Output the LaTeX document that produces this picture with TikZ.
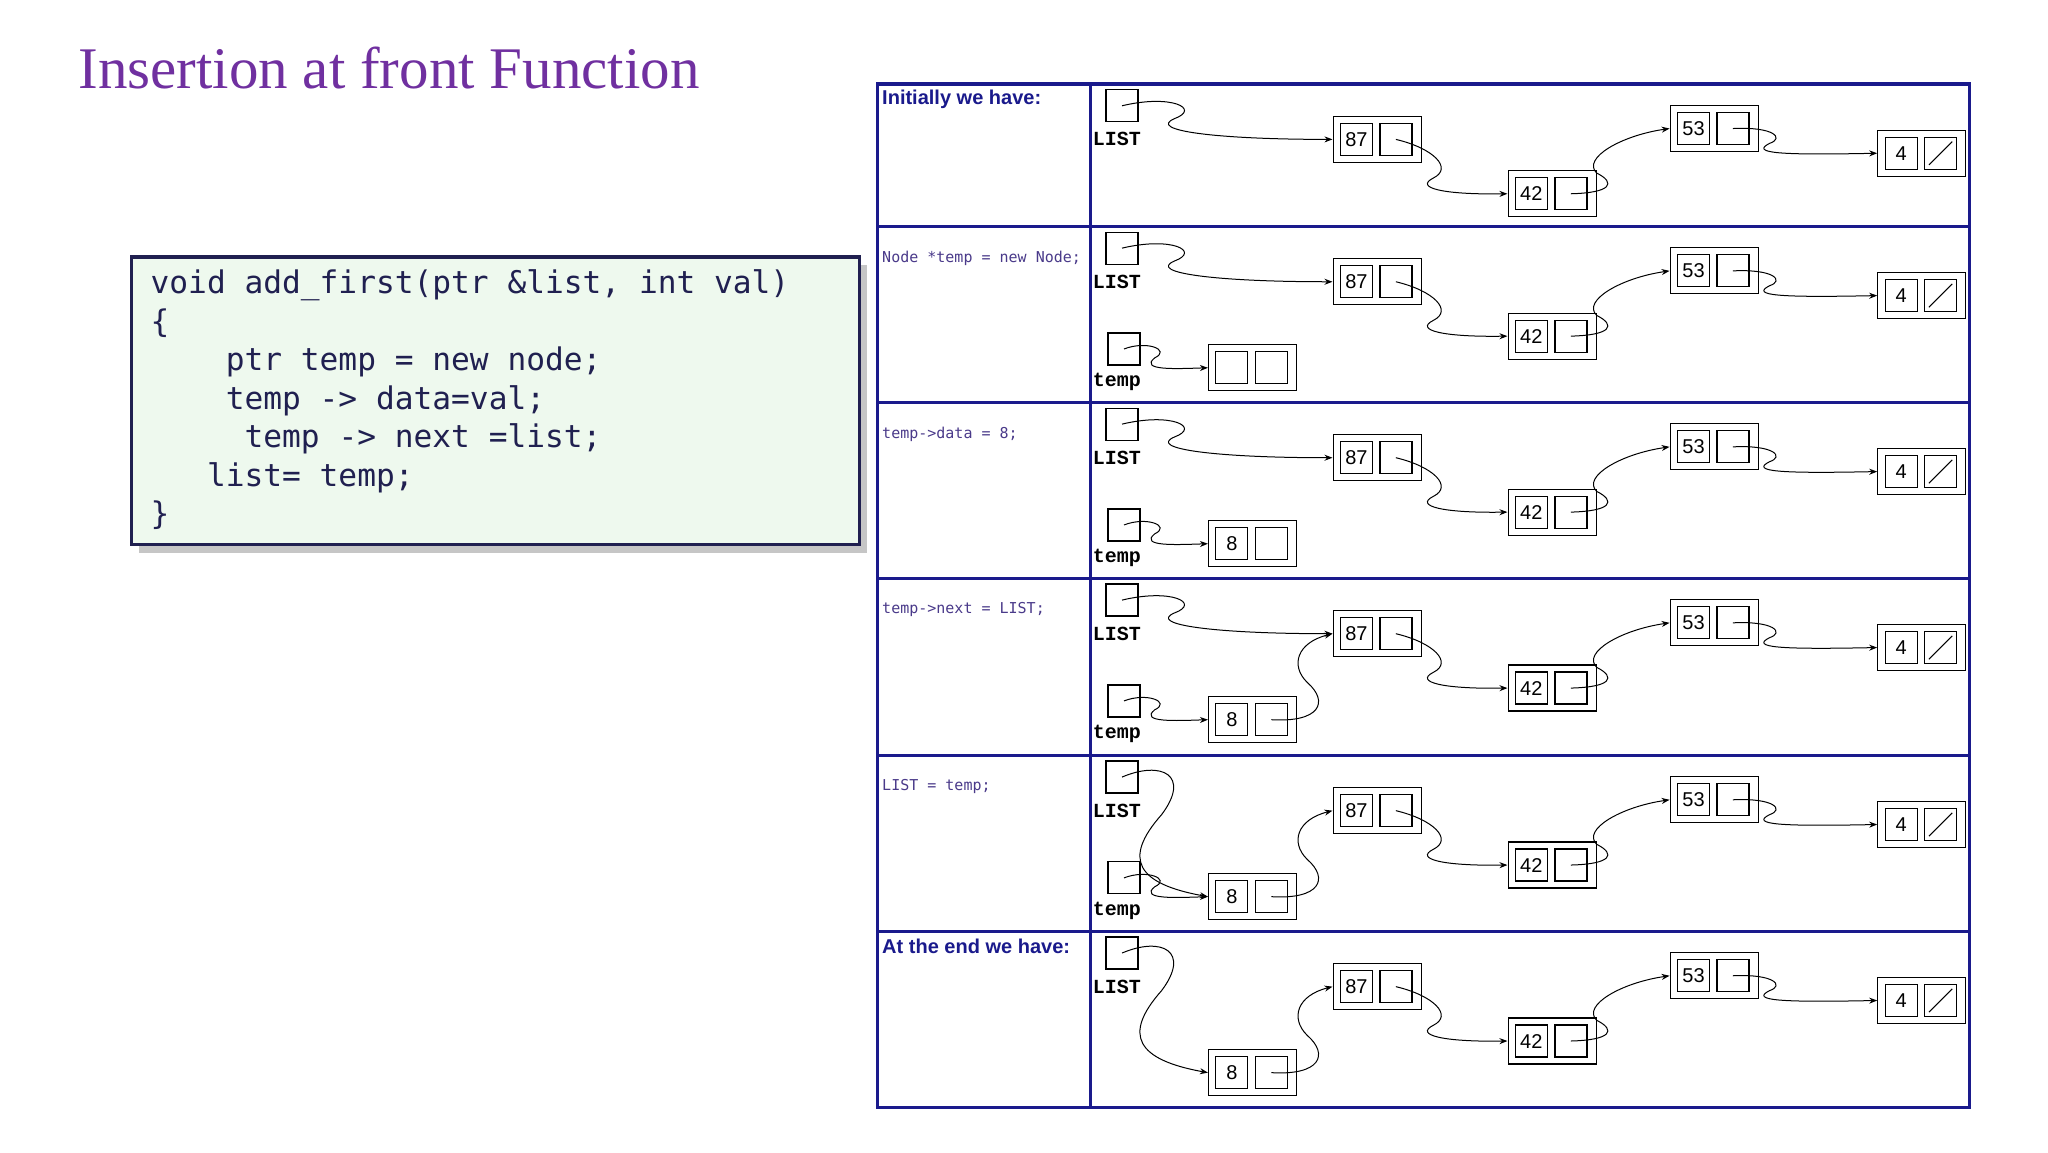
\documentclass[tikz,border=0pt]{standalone}
\usepackage{fontspec}
\setmainfont{Liberation Serif}
\newfontfamily\sansf{Liberation Sans}
\newfontfamily\monof{DejaVu Sans Mono}
\newfontfamily\courf{Liberation Mono}
\usetikzlibrary{arrows.meta,calc}
\definecolor{navy}{HTML}{1A1A8C}
\definecolor{codeink}{HTML}{202050}
\definecolor{ttl}{HTML}{7030A0}
\definecolor{codebg}{HTML}{EEF9EE}
\definecolor{lab}{HTML}{4A3A8A}
\begin{document}
\begin{tikzpicture}[x=0.5pt,y=-0.5pt,
  tbl/.style={navy,line width=1.6pt},
  cellbox/.style={draw,line width=0.6pt,minimum size=16pt,inner sep=0pt,font=\sansf\fontsize{10}{10}\selectfont},
  outerbox/.style={draw,line width=0.6pt,minimum width=44pt,minimum height=23pt,inner sep=0pt},
  ptrbox/.style={draw,line width=0.6pt,minimum size=16pt,inner sep=0pt},
  plab/.style={font=\courf\bfseries\fontsize{10}{10}\selectfont,anchor=west,inner sep=0pt},
  ptr/.style={line width=0.5pt,-{Stealth[length=4pt,width=3pt]}},
  rowlab/.style={anchor=west,inner sep=0pt,text=navy,font=\sansf\bfseries\fontsize{10}{10}\selectfont},
  codelab/.style={anchor=west,inner sep=0pt,text=lab,font=\monof\fontsize{7.5}{7.5}\selectfont},
  code/.style={anchor=base west,inner sep=0pt,text=codeink,font=\monof\fontsize{15.6}{15.6}\selectfont}]
\useasboundingbox (0,0) rectangle (2048,1152);
\fill[white] (0,0) rectangle (2048,1152);
\begin{scope}[scale=0.9886]
% title
\node[anchor=base west,inner sep=0pt,text=ttl,font=\fontsize{29.5}{29.5}\selectfont] (title) at (79,90) {Insertion at front Function};
% code box
\fill[gray!45] (141,268) rectangle (877,559);
\draw[codeink,line width=1.6pt,fill=codebg] (133,260) rectangle (869,551);
\node[code] (c1) at (152,297) {void add\_first(ptr \&list, int val)};
\node[code] (c2) at (152,336) {\{};
\node[code] (c3) at (228,375) {ptr temp = new node;};
\node[code] (c4) at (228,414) {temp -> data=val;};
\node[code] (c5) at (247,453) {temp -> next =list;};
\node[code] (c6) at (209,492) {list= temp;};
\node[code] (c7) at (152,531) {\}};
% table
\draw[tbl] (888,85) rectangle (1992,1120);
\draw[tbl] (1103,85) -- (1103,1120);
\foreach \yy in {229,407,585,764,942} \draw[tbl] (888,\yy) -- (1992,\yy);
% macros
\newcommand\lnode[4]{%
  \node[outerbox] (#1) at (#2+44,#3+23) {};
  \node[cellbox] (#1v) at (#2+23,#3+23) {#4};
  \node[cellbox] (#1n) at (#2+63,#3+23) {};}
\newcommand\common[2]{%
 \begin{scope}[shift={(0,#2)}]
  \node[ptrbox] (#1L) at (1135,22) {};
  \node[plab] (#1Lt) at (1105,56) {LIST};
  \lnode{#1a}{1349}{33}{87}
  \lnode{#1b}{1526}{88}{42}
  \lnode{#1c}{1690}{22}{53}
  \lnode{#1d}{1900}{47}{4}
  \draw[line width=0.5pt] ($(#1dn.south west)+(5,-5)$) -- ($(#1dn.north east)+(-5,5)$);
  \draw[ptr] (#1an.center) .. controls (1450,65) and (1470,85) .. (1450,95) .. controls (1430,105) and (1460,112) .. (#1b.west);
  \draw[ptr] (#1bn.center) .. controls (1630,110) and (1635,100) .. (1615,90) .. controls (1600,75) and (1640,52) .. (#1c.west);
  \draw[ptr] (#1cn.center) .. controls (1795,43) and (1805,55) .. (1790,60) .. controls (1770,70) and (1800,72) .. (#1d.west);
 \end{scope}}
\newcommand\listto[2]{%
 \begin{scope}[shift={(0,#2)}]
  \draw[ptr] (#1L.center) .. controls (1185,10) and (1215,25) .. (1188,35) .. controls (1160,47) and (1230,56) .. (#1a.west);
 \end{scope}}
\newcommand\tempbox[1]{%
  \node[ptrbox] (#1T) at (1137,124) {};
  \node[plab] (#1Tt) at (1105,157) {temp};
  \draw[ptr] (#1T.center) .. controls (1160,115) and (1185,125) .. (1168,133) .. controls (1152,146) and (1190,144) .. (#1e.west);}
% row 1
\node[rowlab] (r1) at (892,100) {Initially we have:};
\common{p}{85}\listto{p}{85}
% row 2
\node[codelab] (r2) at (892,261) {Node *temp = new Node;};
\common{q}{229}\listto{q}{229}
\begin{scope}[shift={(0,229)}]
 \lnode{qe}{1223}{120}{}
 \tempbox{q}
\end{scope}
% row 3
\node[codelab] (r3) at (892,439) {temp->data = 8;};
\common{r}{407}\listto{r}{407}
\begin{scope}[shift={(0,407)}]
 \lnode{re}{1223}{120}{8}
 \tempbox{r}
\end{scope}
% row 4
\node[codelab] (r4) at (892,617) {temp->next = LIST;};
\common{s}{585}\listto{s}{585}
\begin{scope}[shift={(0,585)}]
 \lnode{se}{1223}{120}{8}
 \tempbox{s}
 \draw[ptr] (sen.center) .. controls (1335,146) and (1345,125) .. (1322,105) .. controls (1305,88) and (1312,65) .. (sa.west);
\end{scope}
% row 5
\node[codelab] (r5) at (892,796) {LIST = temp;};
\common{t}{764}
\begin{scope}[shift={(0,764)}]
 \lnode{te}{1223}{120}{8}
 \tempbox{t}
 \draw[ptr] (ten.center) .. controls (1335,146) and (1345,125) .. (1322,105) .. controls (1305,88) and (1312,65) .. (ta.west);
 \draw[ptr] (tL.center) .. controls (1175,5) and (1205,20) .. (1175,60) .. controls (1135,105) and (1150,130) .. (te.west);
\end{scope}
% row 6
\node[rowlab] (r6) at (892,957) {At the end we have:};
\common{u}{942}
\begin{scope}[shift={(0,942)}]
 \lnode{ue}{1223}{120}{8}
 \draw[ptr] (uen.center) .. controls (1335,146) and (1345,125) .. (1322,105) .. controls (1305,88) and (1312,65) .. (ua.west);
 \draw[ptr] (uL.center) .. controls (1175,5) and (1205,20) .. (1175,60) .. controls (1135,105) and (1150,130) .. (ue.west);
\end{scope}
\end{scope}
\end{tikzpicture}
\end{document}
